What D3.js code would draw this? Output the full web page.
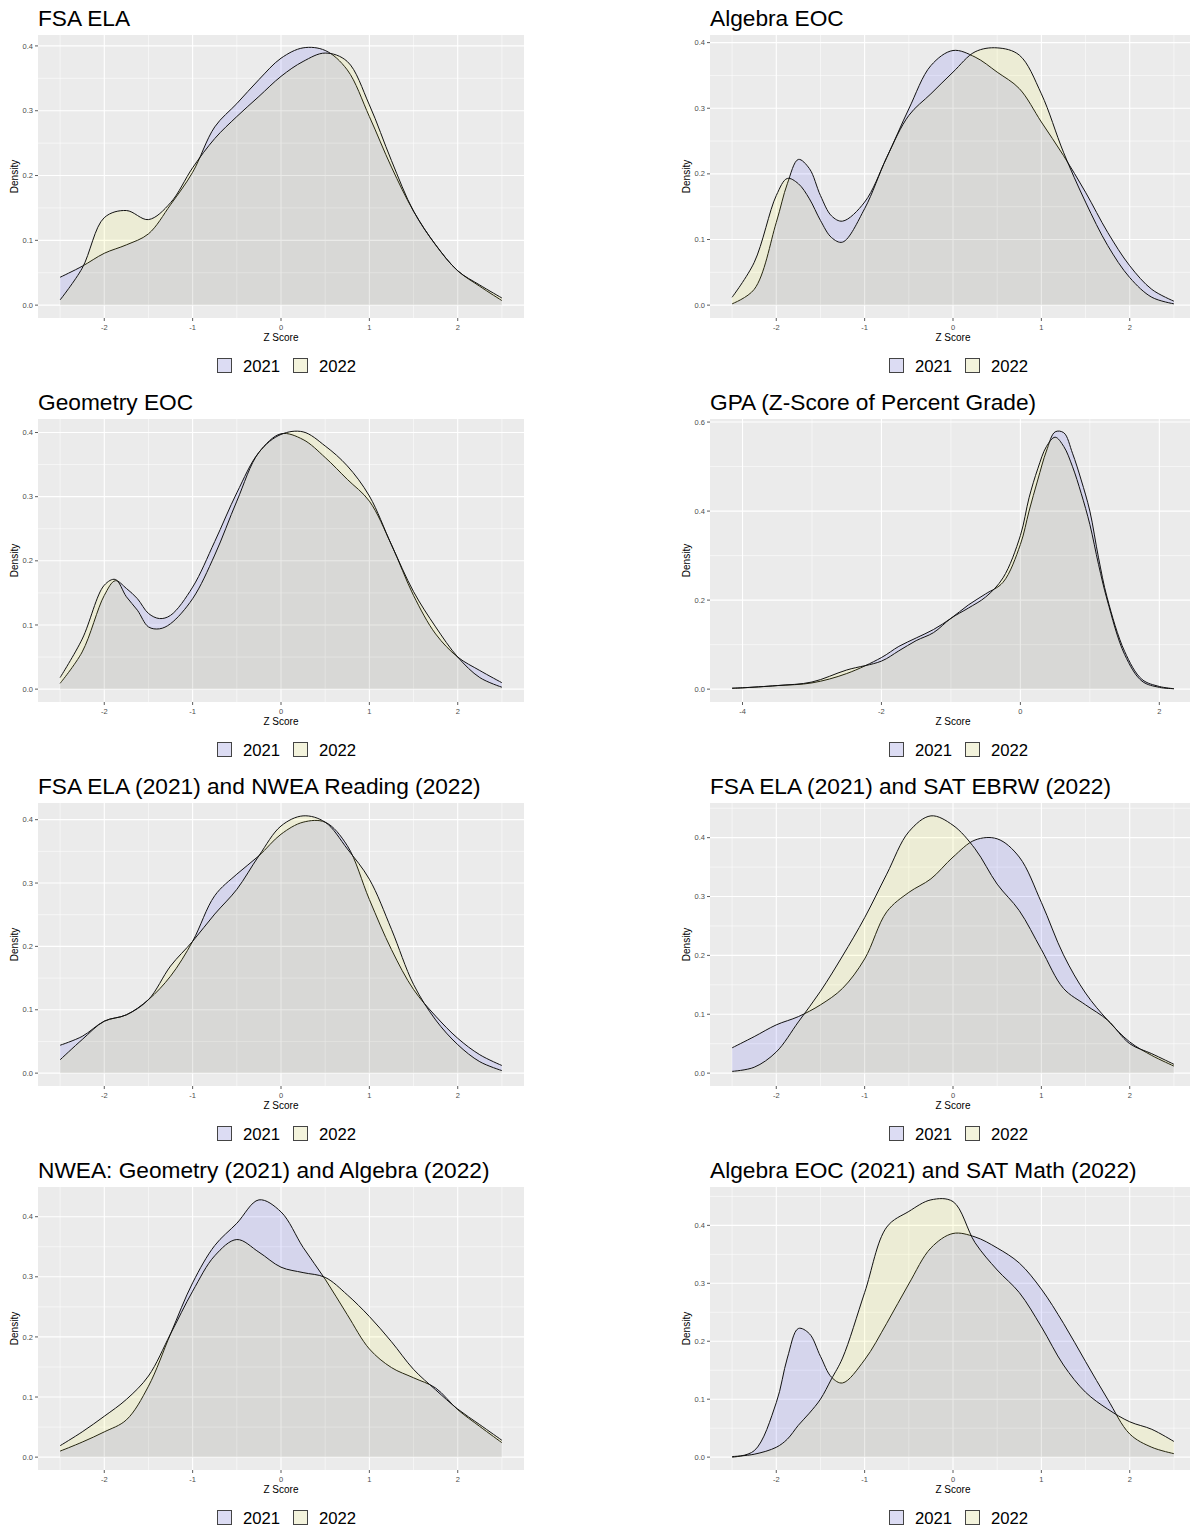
<!DOCTYPE html>
<html lang="en">
<head>
    <meta charset="UTF-8">
    <title>Z Score densities 2021 vs 2022</title>
    <script src="https://d3js.org/d3.v7.min.js"></script>
    <style>
        body { margin: 0; background: #fff; }
        svg { display: block; font-family: "Liberation Sans", Arial, Helvetica, sans-serif; }
    </style>
</head>
<body>
    <svg id="chart"></svg>
    <script>
    const titles = [
        "FSA ELA", "Algebra EOC",
        "Geometry EOC", "GPA (Z-Score of Percent Grade)",
        "FSA ELA (2021) and NWEA Reading (2022)", "FSA ELA (2021) and SAT EBRW (2022)",
        "NWEA: Geometry (2021) and Algebra (2022)", "Algebra EOC (2021) and SAT Math (2022)"
    ];
    const years = ["2021", "2022"];

    const zGrid = [-2.5, -2.25, -2, -1.75, -1.5, -1.25, -1, -0.75, -0.5, -0.25, 0,
                   0.25, 0.5, 0.75, 1, 1.25, 1.5, 1.75, 2, 2.25, 2.5];
    const zDense = [-2.5, -2.25, -2, -1.875, -1.75, -1.625, -1.5, -1.375, -1.25, -1, -0.75, -0.5, -0.25, 0,
                    0.25, 0.5, 0.75, 1, 1.25, 1.5, 1.75, 2, 2.25, 2.5];
    const zGpa = [-4.15, -4, -3.5, -3, -2.5, -2, -1.75, -1.5, -1.25, -1, -0.75, -0.5, -0.25, 0,
                  0.125, 0.25, 0.375, 0.5, 0.625, 0.75, 0.875, 1, 1.125, 1.25, 1.5, 1.75, 2, 2.21];

    const fsaEla2021 = [0.043, 0.060, 0.080, 0.093, 0.110, 0.155, 0.205, 0.275, 0.311, 0.348, 0.381,
                        0.397, 0.393, 0.363, 0.291, 0.213, 0.145, 0.093, 0.053, 0.029, 0.007];
    const fsaEla2022 = [0.008, 0.057, 0.135, 0.146, 0.132, 0.158, 0.212, 0.257, 0.291, 0.322, 0.353,
                        0.376, 0.389, 0.376, 0.309, 0.223, 0.145, 0.093, 0.053, 0.031, 0.011];

    const algebra2021 = [0.002, 0.024, 0.126, 0.185, 0.222, 0.208, 0.167, 0.136, 0.128, 0.157, 0.225, 0.299, 0.365, 0.388,
                         0.378, 0.355, 0.330, 0.279, 0.228, 0.172, 0.111, 0.060, 0.024, 0.006];
    const algebra2022 = [0.012, 0.065, 0.167, 0.193, 0.185, 0.162, 0.129, 0.103, 0.096, 0.147, 0.225, 0.289, 0.322, 0.355,
                         0.386, 0.392, 0.381, 0.322, 0.233, 0.157, 0.091, 0.042, 0.012, 0.002];

    const geometry2021 = [0.009, 0.058, 0.146, 0.169, 0.157, 0.141, 0.118, 0.110, 0.115, 0.159, 0.230, 0.306, 0.369, 0.398,
                          0.389, 0.361, 0.327, 0.293, 0.225, 0.146, 0.086, 0.050, 0.029, 0.010];
    const geometry2022 = [0.018, 0.078, 0.162, 0.171, 0.144, 0.123, 0.097, 0.094, 0.102, 0.141, 0.209, 0.293, 0.369, 0.397,
                          0.401, 0.379, 0.348, 0.301, 0.225, 0.152, 0.097, 0.050, 0.018, 0.003];

    const gpa2021 = [0.002, 0.003, 0.008, 0.014, 0.035, 0.071, 0.096, 0.115, 0.134, 0.159, 0.189, 0.214, 0.240, 0.325,
                     0.400, 0.470, 0.535, 0.578, 0.576, 0.530, 0.470, 0.400, 0.295, 0.205, 0.085, 0.022, 0.006, 0.001];
    const gpa2022 = [0.002, 0.003, 0.008, 0.016, 0.043, 0.063, 0.086, 0.109, 0.127, 0.159, 0.182, 0.207, 0.250, 0.345,
                     0.430, 0.495, 0.545, 0.566, 0.545, 0.500, 0.440, 0.370, 0.280, 0.200, 0.078, 0.018, 0.004, 0.001];

    const fsaNwea2021 = [0.044, 0.058, 0.082, 0.092, 0.116, 0.153, 0.208, 0.280, 0.314, 0.343, 0.377,
                         0.396, 0.396, 0.359, 0.274, 0.195, 0.132, 0.090, 0.055, 0.029, 0.012];
    const fsaNwea2022 = [0.021, 0.053, 0.082, 0.092, 0.116, 0.169, 0.208, 0.251, 0.290, 0.343, 0.390,
                         0.406, 0.396, 0.354, 0.306, 0.227, 0.140, 0.084, 0.045, 0.018, 0.004];

    const fsaSat2021 = [0.043, 0.062, 0.082, 0.096, 0.116, 0.144, 0.194, 0.274, 0.307, 0.330, 0.367,
                        0.396, 0.398, 0.367, 0.290, 0.201, 0.136, 0.090, 0.053, 0.030, 0.012];
    const fsaSat2022 = [0.003, 0.010, 0.036, 0.087, 0.139, 0.199, 0.264, 0.338, 0.410, 0.437, 0.421,
                        0.381, 0.321, 0.276, 0.210, 0.144, 0.116, 0.090, 0.050, 0.033, 0.015];

    const nwea2021 = [0.010, 0.025, 0.042, 0.062, 0.118, 0.205, 0.290, 0.352, 0.389, 0.428, 0.408,
                      0.349, 0.296, 0.237, 0.180, 0.149, 0.132, 0.115, 0.079, 0.051, 0.024];
    const nwea2022 = [0.019, 0.042, 0.068, 0.096, 0.135, 0.205, 0.276, 0.335, 0.362, 0.341, 0.316,
                      0.307, 0.299, 0.270, 0.234, 0.192, 0.146, 0.112, 0.080, 0.054, 0.028];

    const algSat2021 = [0.000, 0.011, 0.094, 0.171, 0.222, 0.213, 0.174, 0.138, 0.128, 0.168, 0.231, 0.299, 0.361, 0.386,
                        0.380, 0.361, 0.335, 0.290, 0.231, 0.165, 0.100, 0.040, 0.017, 0.006];
    const algSat2022 = [0.001, 0.005, 0.017, 0.031, 0.055, 0.076, 0.100, 0.135, 0.171, 0.284, 0.397, 0.424, 0.444, 0.441,
                        0.370, 0.323, 0.284, 0.225, 0.159, 0.112, 0.083, 0.061, 0.048, 0.027];

    const xTicks = [-2, -1, 0, 1, 2];
    const gpaXTicks = [-4, -2, 0, 2];
    const yTicks = [0, 0.1, 0.2, 0.3, 0.4];
    const gpaYTicks = [0, 0.2, 0.4, 0.6];

    const panels = [
        { z: zGrid,  a: fsaEla2021,   b: fsaEla2022,   xt: xTicks,    yt: yTicks },
        { z: zDense, a: algebra2021,  b: algebra2022,  xt: xTicks,    yt: yTicks },
        { z: zDense, a: geometry2021, b: geometry2022, xt: xTicks,    yt: yTicks },
        { z: zGpa,   a: gpa2021,      b: gpa2022,      xt: gpaXTicks, yt: gpaYTicks },
        { z: zGrid,  a: fsaNwea2021,  b: fsaNwea2022,  xt: xTicks,    yt: yTicks },
        { z: zGrid,  a: fsaSat2021,   b: fsaSat2022,   xt: xTicks,    yt: yTicks },
        { z: zGrid,  a: nwea2021,     b: nwea2022,     xt: xTicks,    yt: yTicks },
        { z: zDense, a: algSat2021,   b: algSat2022,   xt: xTicks,    yt: yTicks }
    ].map((p, i) => Object.assign(p, { title: titles[i] }));

    const width = 1190, height = 1532;
    const fills = ["rgba(0,0,255,0.09)", "rgba(255,255,0,0.09)"];
    const svg = d3.select('#chart').attr('width', width).attr('height', height);

    // ggplot-like minor breaks: midpoints between majors, extended inside the domain
    function minorBreaks(major, domain) {
        const step = major[1] - major[0];
        const out = [];
        for (let v = major[0] - step / 2; v <= domain[1] + 1e-9; v += step) {
            if (v >= domain[0] - 1e-9) out.push(+v.toFixed(6));
        }
        return out;
    }

    panels.forEach((p, i) => {
        const row = Math.floor(i / 2), col = i % 2;
        const left = col === 0 ? 38 : 710;
        const top = 35 + row * 384;
        const pw = 486, ph = 283;

        const zMin = d3.min(p.z), zMax = d3.max(p.z);
        const zPad = (zMax - zMin) * 0.05;
        const dMax = d3.max(p.a.concat(p.b));
        const x = d3.scaleLinear().domain([zMin - zPad, zMax + zPad]).range([left, left + pw]);
        const y = d3.scaleLinear().domain([-dMax * 0.05, dMax * 1.05]).range([top + ph, top]);

        const g = svg.append('g');

        g.append('text')
            .attr('x', left).attr('y', top - 9)
            .attr('font-size', 22.7).attr('fill', '#000')
            .text(p.title);

        g.append('rect')
            .attr('x', left).attr('y', top)
            .attr('width', pw).attr('height', ph)
            .attr('fill', '#ebebeb');

        // grid
        const xMinor = minorBreaks(p.xt, x.domain());
        const yMinor = minorBreaks(p.yt, y.domain());
        g.selectAll('line.xminor').data(xMinor).enter().append('line')
            .attr('x1', d => x(d)).attr('x2', d => x(d))
            .attr('y1', top).attr('y2', top + ph)
            .attr('stroke', '#fff').attr('stroke-width', 0.55);
        g.selectAll('line.yminor').data(yMinor).enter().append('line')
            .attr('x1', left).attr('x2', left + pw)
            .attr('y1', d => y(d)).attr('y2', d => y(d))
            .attr('stroke', '#fff').attr('stroke-width', 0.55);
        g.selectAll('line.xmajor').data(p.xt).enter().append('line')
            .attr('x1', d => x(d)).attr('x2', d => x(d))
            .attr('y1', top).attr('y2', top + ph)
            .attr('stroke', '#fff').attr('stroke-width', 1.1);
        g.selectAll('line.ymajor').data(p.yt).enter().append('line')
            .attr('x1', left).attr('x2', left + pw)
            .attr('y1', d => y(d)).attr('y2', d => y(d))
            .attr('stroke', '#fff').attr('stroke-width', 1.1);

        // densities: 2021 first, 2022 on top
        [p.a, p.b].forEach((vals, k) => {
            const pts = p.z.map((z, j) => [z, vals[j]]);
            const area = d3.area()
                .x(d => x(d[0])).y0(y(0)).y1(d => y(d[1]))
                .curve(d3.curveCatmullRom.alpha(0.5));
            const line = d3.line()
                .x(d => x(d[0])).y(d => y(d[1]))
                .curve(d3.curveCatmullRom.alpha(0.5));
            g.append('path').attr('d', area(pts)).attr('fill', fills[k]);
            g.append('path').attr('d', line(pts))
                .attr('fill', 'none').attr('stroke', '#111').attr('stroke-width', 1);
        });

        // y axis
        g.selectAll('line.ytick').data(p.yt).enter().append('line')
            .attr('x1', left - 3).attr('x2', left)
            .attr('y1', d => y(d)).attr('y2', d => y(d))
            .attr('stroke', '#333').attr('stroke-width', 0.8);
        g.selectAll('text.ytick').data(p.yt).enter().append('text')
            .attr('x', left - 5).attr('y', d => y(d) + 2.6)
            .attr('text-anchor', 'end').attr('font-size', 7.5).attr('fill', '#4d4d4d')
            .text(d => d3.format('.1f')(d));

        // x axis
        g.selectAll('line.xtick').data(p.xt).enter().append('line')
            .attr('x1', d => x(d)).attr('x2', d => x(d))
            .attr('y1', top + ph).attr('y2', top + ph + 3)
            .attr('stroke', '#333').attr('stroke-width', 0.8);
        g.selectAll('text.xtick').data(p.xt).enter().append('text')
            .attr('x', d => x(d)).attr('y', top + ph + 12)
            .attr('text-anchor', 'middle').attr('font-size', 7.5).attr('fill', '#4d4d4d')
            .text(d => String(d));

        g.append('text')
            .attr('x', left + pw / 2).attr('y', top + ph + 23)
            .attr('text-anchor', 'middle').attr('font-size', 10).attr('fill', '#000')
            .text('Z Score');
        g.append('text')
            .attr('transform', `translate(${left - 20},${top + ph / 2}) rotate(-90)`)
            .attr('text-anchor', 'middle').attr('font-size', 10).attr('fill', '#000')
            .text('Density');

        // legend
        const lg = g.append('g').attr('transform', `translate(${left + 179},${top + ph + 40})`);
        years.forEach((yr, k) => {
            const ox = k * 76;
            lg.append('rect').attr('x', ox).attr('y', 0).attr('width', 15).attr('height', 15)
                .attr('fill', '#f2f2f2');
            lg.append('rect').attr('x', ox + 0.5).attr('y', 0.5).attr('width', 14).attr('height', 14)
                .attr('fill', fills[k]).attr('stroke', '#444').attr('stroke-width', 1);
            lg.append('text').attr('x', ox + 26).attr('y', 13.5)
                .attr('font-size', 16.7).attr('fill', '#000')
                .text(yr);
        });
    });
    </script>
</body>
</html>
